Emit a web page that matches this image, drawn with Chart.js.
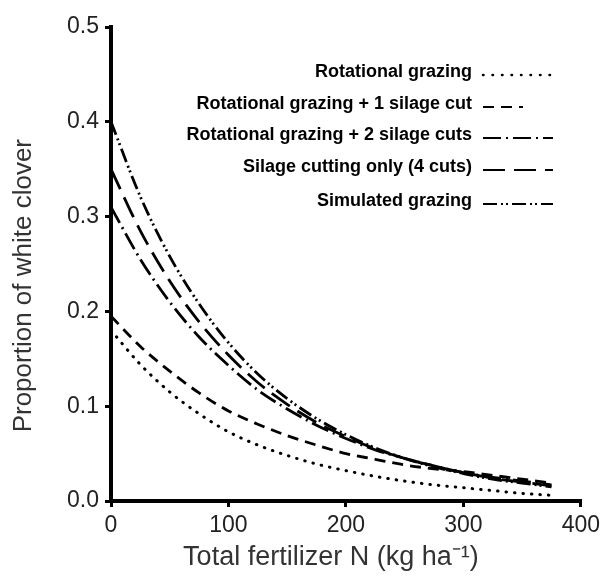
<!DOCTYPE html>
<html>
<head>
<meta charset="utf-8">
<script src="https://cdn.jsdelivr.net/npm/chart.js@4.4.1/dist/chart.umd.min.js"></script>
<style>
html,body{margin:0;padding:0;background:#fff;}
#wrap{position:relative;width:605px;height:579px;}
</style>
</head>
<body>
<div id="wrap"><canvas id="c" width="605" height="579"></canvas></div>
<script>
// Fertilizer N (kg/ha)
const fertN = [0,25,50,75,100,125,150,175,200,225,250,275,300,325,350,375];
// Proportion of white clover per management
const rotGrazing   = [0.180,0.144,0.115,0.092,0.073,0.059,0.048,0.039,0.032,0.026,0.021,0.017,0.014,0.011,0.008,0.006];
const rotSilage1   = [0.195,0.163,0.137,0.114,0.095,0.081,0.069,0.059,0.050,0.044,0.038,0.034,0.031,0.027,0.023,0.019];
const rotSilage2   = [0.310,0.255,0.210,0.173,0.143,0.117,0.097,0.080,0.066,0.054,0.045,0.037,0.030,0.025,0.021,0.017];
const silageOnly   = [0.350,0.285,0.232,0.189,0.154,0.125,0.102,0.083,0.068,0.055,0.045,0.037,0.030,0.024,0.020,0.016];
const simGrazing   = [0.400,0.321,0.258,0.208,0.167,0.134,0.108,0.087,0.070,0.056,0.045,0.036,0.029,0.023,0.019,0.015];
const seriesNames = ['Rotational grazing','Rotational grazing + 1 silage cut','Rotational grazing + 2 silage cuts','Silage cutting only (4 cuts)','Simulated grazing'];
const xTicks = [0,100,200,300,400];
const yTicks = [0,0.1,0.2,0.3,0.4,0.5];

const styles = [
  {dash:[0.5,8], width:3, cap:'round', sampleW:70},
  {dash:[11,7], width:2.8, cap:'butt', sampleW:40},
  {dash:[18,5,2,5], width:2.8, cap:'butt', sampleW:70},
  {dash:[22,9], width:2.8, cap:'butt', sampleW:70},
  {dash:[14,4,2,3,2,4], width:2.8, cap:'butt', sampleW:70}
];
const allSeries = [rotGrazing, rotSilage1, rotSilage2, silageOnly, simGrazing];
const datasets = allSeries.map((arr,i)=>({
  label: seriesNames[i],
  data: arr.map((v,j)=>({x:fertN[j], y:v})),
  borderColor:'#000',
  borderWidth: styles[i].width,
  borderDash: styles[i].dash,
  borderCapStyle: styles[i].cap,
  pointRadius:0,
  fill:false,
  tension:0.4,
  cubicInterpolationMode:'monotone'
}));

const legendPlugin = {
  id:'rightLegend',
  afterDraw(chart){
    const ctx = chart.ctx;
    const rows = [72,104,135,167,201];
    ctx.save();
    ctx.font = 'bold 18px "Liberation Sans", Arial, sans-serif';
    ctx.fillStyle = '#000';
    ctx.textAlign = 'right';
    ctx.textBaseline = 'middle';
    chart.data.datasets.forEach((ds,i)=>{
      const y = rows[i];
      ctx.fillText(ds.label, 472, y);
      ctx.beginPath();
      ctx.setLineDash(i===0 ? [0.5,9] : ds.borderDash);
      ctx.lineWidth = i===0 ? 2.5 : 1.8;
      ctx.lineCap = ds.borderCapStyle;
      ctx.strokeStyle = '#000';
      ctx.moveTo(483, y+3);
      ctx.lineTo(483+styles[i].sampleW, y+3);
      ctx.stroke();
    });
    ctx.restore();
  }
};

new Chart(document.getElementById('c'), {
  type:'line',
  data:{datasets},
  options:{
    responsive:false,
    animation:false,
    layout:{padding:{left:0,right:19,top:27,bottom:0}},
    plugins:{legend:{display:false}, tooltip:{enabled:false}},
    scales:{
      x:{
        type:'linear', min:0, max:400,
        afterBuildTicks(s){ s.ticks = xTicks.map(v=>({value:v})); },
        afterFit(s){ s.height = 78; },
        border:{display:true, color:'#000', width:4},
        grid:{drawOnChartArea:false, drawTicks:true, tickLength:6, tickColor:'#000', lineWidth:3},
        ticks:{padding:5, color:'#222', font:{family:'"Liberation Sans", Arial, sans-serif', size:23}, maxRotation:0},
        title:{display:true, text:'Total fertilizer N (kg ha\u207B\u00B9)    ', color:'#333', font:{family:'"Liberation Sans", Arial, sans-serif', size:27}, padding:{top:4,bottom:5}}
      },
      y:{
        min:0, max:0.5,
        afterBuildTicks(s){ s.ticks = yTicks.map(v=>({value:v})); },
        afterFit(s){ s.width = 111; },
        border:{display:true, color:'#000', width:4},
        grid:{drawOnChartArea:false, drawTicks:true, tickLength:6, tickColor:'#000', lineWidth:3},
        ticks:{padding:6, color:'#222', font:{family:'"Liberation Sans", Arial, sans-serif', size:23}, callback:v=>Number(v).toFixed(1)},
        title:{display:true, text:'Proportion of white clover      ', color:'#333', font:{family:'"Liberation Sans", Arial, sans-serif', size:26}, padding:{top:8,bottom:4}}
      }
    }
  },
  plugins:[legendPlugin]
});
</script>
</body>
</html>
